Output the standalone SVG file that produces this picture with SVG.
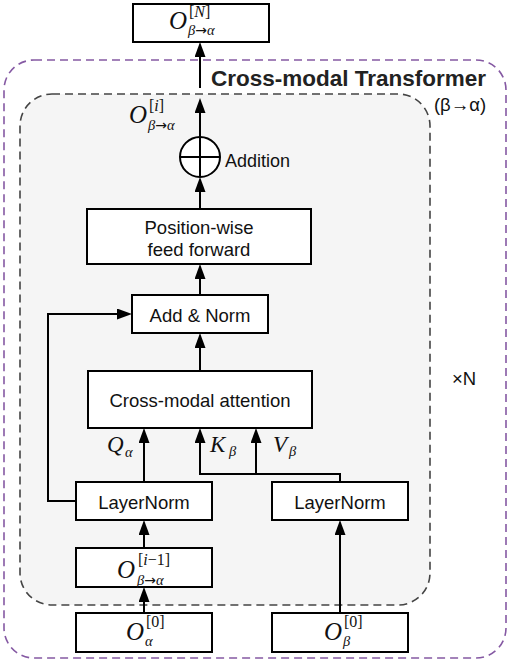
<svg xmlns="http://www.w3.org/2000/svg" width="510" height="665" viewBox="0 0 510 665">
<defs>
<marker id="ah" markerUnits="userSpaceOnUse" markerWidth="16" markerHeight="12" refX="11" refY="5.5" orient="auto">
<path d="M0,0 L15,5.5 L0,11 Z" fill="#000"/>
</marker>
</defs>
<style>
.box{fill:#fff;stroke:#000;stroke-width:2}
.t{font-family:"Liberation Sans",Arial,sans-serif;font-size:18.5px;fill:#111;text-anchor:middle}
.m{font-family:"Liberation Serif","Times New Roman",serif;font-style:italic;font-size:25px;fill:#111}
.ms{font-family:"Liberation Serif","Times New Roman",serif;font-size:16px;fill:#111}
.sb{font-family:"Liberation Serif","Times New Roman",serif;font-style:italic;font-size:14.5px;fill:#111}
.q{font-family:"Liberation Serif","Times New Roman",serif;font-style:italic;font-size:23px;fill:#111}
.i{font-style:italic}
.ar{font-family:"DejaVu Sans",sans-serif;font-style:normal;font-size:14px}
.ca{fill:none;stroke:#000;stroke-width:2;marker-end:url(#ah)}
</style>
<g id="outer">
<rect x="4" y="60" width="502" height="598" rx="30" fill="#fff" stroke="#8559a3" stroke-width="1.6" stroke-dasharray="8,5"/>
<text x="211" y="86" style="font-family:'Liberation Sans',Arial,sans-serif;font-weight:bold;font-size:22.5px;fill:#222">Cross-modal Transformer</text>
<text x="460" y="111" class="t">(β→α)</text>
<text x="464" y="385" class="t">×N</text>
</g>
<g id="inner">
<rect x="20" y="94" width="410" height="511" rx="32" fill="#f5f5f5" stroke="#444" stroke-width="1.6" stroke-dasharray="8,5"/>
</g>
<g id="out-N">
<rect class="box" x="133" y="4" width="136" height="38"/>
<text class="m" x="169" y="29">O</text>
<text class="ms" x="189" y="17">[<tspan class="i">N</tspan>]</text>
<text class="sb" x="188" y="35">β<tspan class="ar">→</tspan>α</text>
</g>
<g id="out-i">
<text class="m" x="129" y="123">O</text>
<text class="ms" x="149" y="111">[<tspan class="i">i</tspan>]</text>
<text class="sb" x="148" y="130">β<tspan class="ar">→</tspan>α</text>
</g>
<g id="addition">
<circle cx="200" cy="157" r="20" fill="#fff" stroke="#000" stroke-width="2"/>
<path d="M180,157 H220 M200,137 V177" stroke="#000" stroke-width="2"/>
<text x="225" y="167" style="font-family:'Liberation Sans',Arial,sans-serif;font-size:18px;fill:#111">Addition</text>
</g>
<g id="ffn">
<rect class="box" x="87" y="209" width="224" height="55"/>
<text class="t" x="199" y="234">Position-wise</text>
<text class="t" x="199" y="256">feed forward</text>
</g>
<g id="addnorm">
<rect class="box" x="132" y="295" width="136" height="38"/>
<text class="t" x="200" y="322">Add &amp; Norm</text>
</g>
<g id="cma">
<rect class="box" x="88" y="371" width="224" height="57"/>
<text class="t" x="200" y="407">Cross-modal attention</text>
</g>
<g id="ln-a">
<rect class="box" x="76" y="482" width="136" height="38"/>
<text class="t" x="144" y="509">LayerNorm</text>
</g>
<g id="ln-b">
<rect class="box" x="272" y="482" width="136" height="38"/>
<text class="t" x="340" y="509">LayerNorm</text>
</g>
<g id="out-prev">
<rect class="box" x="76" y="548" width="136" height="39"/>
<text class="m" x="117" y="578">O</text>
<text class="ms" x="138" y="565">[<tspan class="i">i</tspan>−1]</text>
<text class="sb" x="137" y="585">β<tspan class="ar">→</tspan>α</text>
</g>
<g id="in-a">
<rect class="box" x="76" y="613" width="136" height="39"/>
<text class="m" x="126" y="640">O</text>
<text class="ms" x="146" y="627">[0]</text>
<text class="sb" x="145" y="646">α</text>
</g>
<g id="in-b">
<rect class="box" x="272" y="613" width="136" height="39"/>
<text class="m" x="324" y="640">O</text>
<text class="ms" x="344" y="627">[0]</text>
<text class="sb" x="343" y="646">β</text>
</g>
<g id="qkv-labels">
<text class="q" x="107" y="452">Q</text><text class="sb" x="125" y="457">α</text>
<text class="q" x="210" y="452">K</text><text class="sb" x="229" y="456">β</text>
<text class="q" x="273" y="452">V</text><text class="sb" x="289" y="456">β</text>
</g>
<g id="connectors">
<path class="ca" d="M200,88 V46"/>
<path class="ca" d="M200,137 V102"/>
<path class="ca" d="M200,209 V181"/>
<path class="ca" d="M200,295 V268"/>
<path class="ca" d="M200,371 V337"/>
<path class="ca" d="M144,482 V432"/>
<path class="ca" d="M340,482 V474 H200 V432"/>
<path class="ca" d="M256,474 V432"/>
<path class="ca" d="M76,501 H48 V314 H128"/>
<path class="ca" d="M144,548 V524"/>
<path class="ca" d="M144,613 V591"/>
<path class="ca" d="M340,613 V524"/>
</g>
</svg>
